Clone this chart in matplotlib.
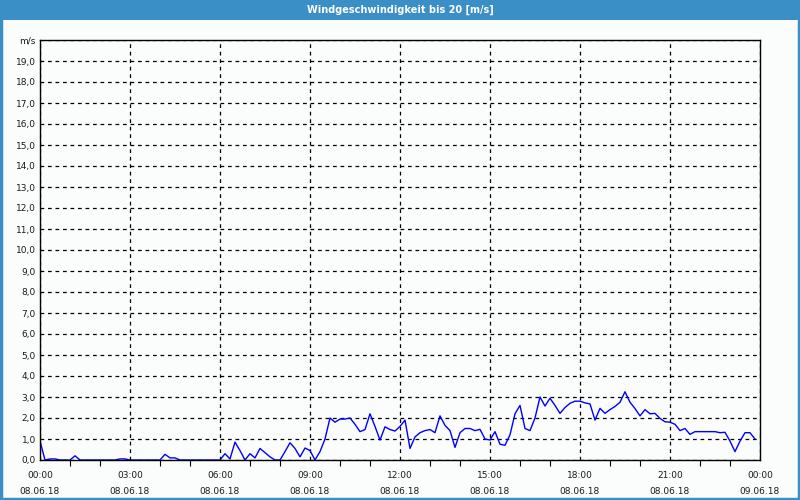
"""
Windgeschwindigkeit 08.06.18 - 10-Minuten-Werte als Liniendiagramm
"""

import numpy as np
import matplotlib.pyplot as plt
from matplotlib.patches import Rectangle
from matplotlib.ticker import MultipleLocator, FixedLocator

TITLE = 'Windgeschwindigkeit bis 20 [m/s]'
UNIT = 'm/s'

# 10-minute samples starting 08.06.18 00:00 (hours since midnight)
sample_step_h = 1 / 6
wind_speed = [
    0.9, 0.0, 0.05, 0.05, 0.0, 0.0, 0.0, 0.2, 0.0, 0.0, 0.0, 0.0,
    0.0, 0.0, 0.0, 0.0, 0.05, 0.05, 0.0, 0.0, 0.0, 0.0, 0.0, 0.0,
    0.0, 0.27, 0.1, 0.1, 0.0, 0.0, 0.0, 0.0, 0.0, 0.0, 0.0, 0.0,
    0.0, 0.3, 0.05, 0.85, 0.45, 0.0, 0.3, 0.1, 0.55, 0.35, 0.15, 0.0,
    0.0, 0.4, 0.82, 0.55, 0.15, 0.57, 0.45, 0.0, 0.4, 1.0, 2.0, 1.8,
    1.95, 1.95, 2.0, 1.7, 1.35, 1.45, 2.2, 1.6, 0.95, 1.58, 1.45, 1.38,
    1.6, 1.9, 0.55, 1.1, 1.3, 1.4, 1.45, 1.3, 2.1, 1.65, 1.4, 0.6,
    1.3, 1.5, 1.5, 1.4, 1.46, 1.0, 0.95, 1.35, 0.75, 0.7, 1.2, 2.2,
    2.6, 1.5, 1.4, 2.0, 3.0, 2.57, 2.94, 2.6, 2.22, 2.5, 2.7, 2.8,
    2.8, 2.72, 2.67, 1.9, 2.46, 2.22, 2.4, 2.55, 2.75, 3.25, 2.75, 2.45,
    2.1, 2.4, 2.2, 2.22, 1.98, 1.82, 1.8, 1.7, 1.4, 1.5, 1.22, 1.35,
    1.35, 1.35, 1.35, 1.35, 1.3, 1.32, 0.9, 0.4, 0.9, 1.3, 1.3, 1.0,
]
hours = np.arange(len(wind_speed)) * sample_step_h

# axis labels
x_tick_hours = [0, 3, 6, 9, 12, 15, 18, 21, 24]
x_tick_labels = ['00:00\n08.06.18', '03:00\n08.06.18', '06:00\n08.06.18',
                 '09:00\n08.06.18', '12:00\n08.06.18', '15:00\n08.06.18',
                 '18:00\n08.06.18', '21:00\n08.06.18', '00:00\n09.06.18']
y_tick_values = list(range(0, 21))
y_tick_labels = [f'{v},0' for v in range(0, 20)] + [UNIT]

FRAME_BLUE = '#3b8fc7'
BG = '#fafdfb'
TEXT = '#1a1a1a'

plt.rcParams['font.family'] = ['DejaVu Sans']

fig = plt.figure(figsize=(8, 5), dpi=100, facecolor=BG)
ax = fig.add_axes([0.05, 0.08, 0.9, 0.84], facecolor=BG)

ax.plot(hours, wind_speed, color='#0000ff', linewidth=1.0)

ax.set_xlim(0, 24)
ax.set_ylim(0, 20)

ax.xaxis.set_major_locator(FixedLocator(x_tick_hours))
ax.set_xticklabels(x_tick_labels)
ax.xaxis.set_minor_locator(MultipleLocator(1))
ax.yaxis.set_major_locator(FixedLocator(y_tick_values))
ax.set_yticklabels(y_tick_labels)

ax.tick_params(axis='x', which='major', length=0, pad=8, labelsize=6.5, colors=TEXT)
ax.tick_params(axis='x', which='minor', length=4, width=0.8, color='black', direction='out')
ax.tick_params(axis='y', length=0, pad=3, labelsize=6.5, colors=TEXT)
for lbl in ax.get_xticklabels():
    lbl.set_linespacing(2.0)

ax.grid(True, which='major', color='black', linestyle=(0, (3, 3)), linewidth=0.9)
for spine in ax.spines.values():
    spine.set_color('black')
    spine.set_linewidth(1.0)

# title bar and window border
fig.patches.append(Rectangle((0, 0.96), 1, 0.04, transform=fig.transFigure,
                             facecolor=FRAME_BLUE, edgecolor='none', zorder=0))
fig.patches.append(Rectangle((0.001, 0.002), 0.998, 0.996, transform=fig.transFigure,
                             facecolor='none', edgecolor=FRAME_BLUE, linewidth=2.5, zorder=1))
fig.text(0.5, 0.98, TITLE, ha='center', va='center', color='white',
         fontsize=7, fontweight='bold')

fig.savefig('out.png', dpi=100, facecolor=BG)
